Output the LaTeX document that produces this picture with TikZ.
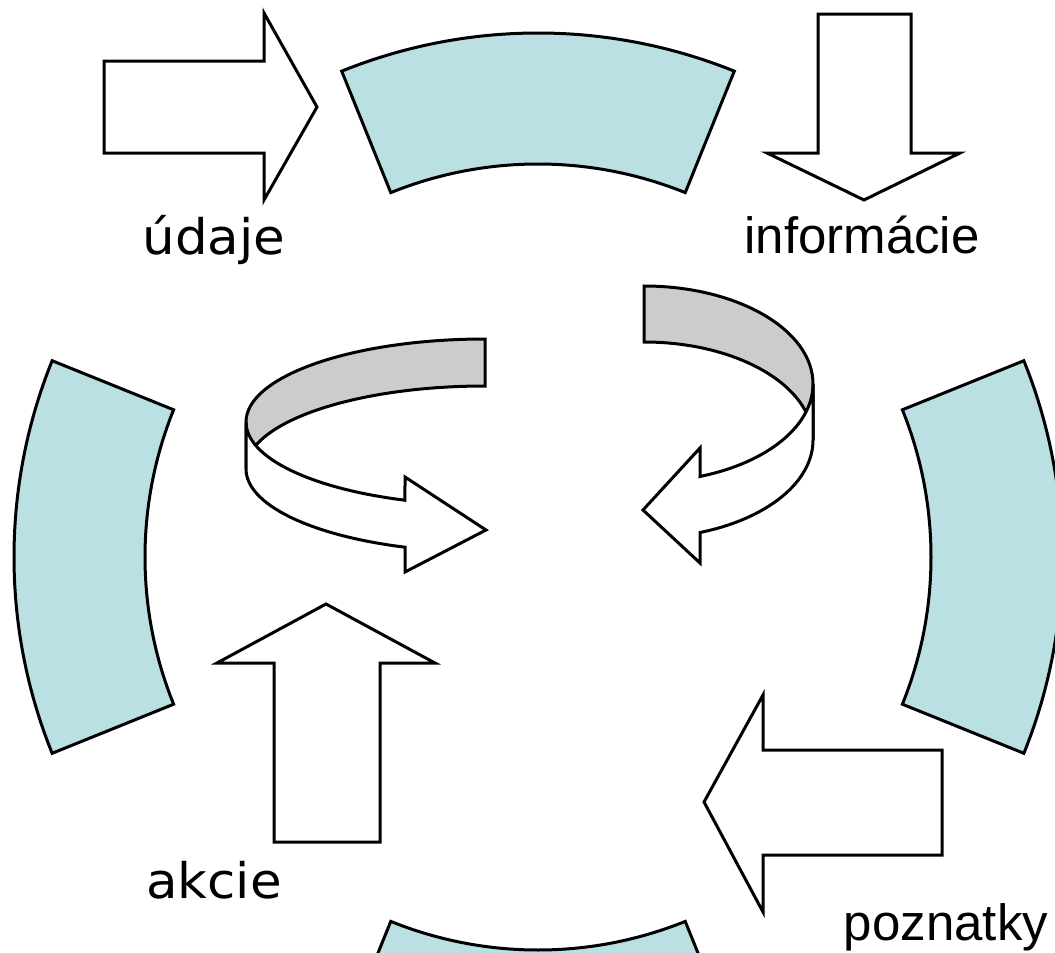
\documentclass[tikz,border=0pt]{standalone}
\usepackage{fontspec}
\setmainfont{Liberation Sans}
\newfontfamily\widefont{DejaVu Sans}

\definecolor{ringblue}{RGB}{187,224,227}
\definecolor{bandgray}{RGB}{204,204,204}

\tikzset{
    segment/.style={draw=black, fill=ringblue, line width=3pt},
    blockarrow/.style={draw=black, fill=white, line width=3pt, line join=miter},
    bandback/.style={draw=black, fill=bandgray, line width=3pt},
    bandfront/.style={draw=black, fill=white, line width=3pt},
    lbl/.style={anchor=base, inner sep=0pt},
    serifless/.style={font=\fontsize{51}{51}\selectfont},
    widetext/.style={font=\widefont\fontsize{49}{49}\selectfont}
}

\begin{document}
\begin{tikzpicture}[x=1pt,y=-1pt]
    \useasboundingbox (0,0) rectangle (1055,953);
    \clip (0,0) rectangle (1055,953);
    % ring of four segments
    \begin{scope}[shift={(538,557)}]
        \foreach \c in {0,90,180,270} {
            \draw[segment] (\c-22:524) arc[start angle=\c-22, end angle=\c+22, radius=524]
                -- (\c+22:393) arc[start angle=\c+22, end angle=\c-22, radius=393] -- cycle;
        }
    \end{scope}
    % straight arrows
    \draw[blockarrow] (104,61) -- (264,61) -- (264,13) -- (317,107) -- (264,200) -- (264,153) -- (104,153) -- cycle;
    \draw[blockarrow] (818,14) -- (911,14) -- (911,153) -- (960,153) -- (864,200) -- (767,153) -- (818,153) -- cycle;
    \draw[blockarrow] (326,604) -- (435,663) -- (380,663) -- (380,842) -- (274,842) -- (274,663) -- (217,663) -- cycle;
    \draw[blockarrow] (704,802) -- (763,695) -- (763,750) -- (942,750) -- (942,855) -- (763,855) -- (763,912) -- cycle;
    % curved arrow, left
    \draw[bandback] (485,339) arc[start angle=270, end angle=180, x radius=239, y radius=83]
        -- (246,469) arc[start angle=180, end angle=270, x radius=239, y radius=83] -- cycle;
    \draw[bandfront] (246,422) arc[start angle=180, end angle=109.56, x radius=239, y radius=83]
        -- (405,477) -- (486,530) -- (405,572) -- (405,547.2)
        arc[start angle=109.56, end angle=180, x radius=239, y radius=83] -- cycle;
    % curved arrow, right
    \draw[bandback] (644,286) arc[start angle=270, end angle=360, x radius=169, y radius=98]
        -- (813,440) arc[start angle=0, end angle=-90, x radius=169, y radius=98] -- cycle;
    \draw[bandfront] (813,384) arc[start angle=0, end angle=70.65, x radius=169, y radius=98]
        -- (700,448) -- (643,510) -- (700,563) -- (700,532.5)
        arc[start angle=70.65, end angle=0, x radius=169, y radius=98] -- cycle;
    % labels
    \node[lbl, widetext] (udaje) at (214,254) {\scalebox{1.05}[1]{údaje}};
    \node[lbl, serifless] (informacie) at (862,253) {informácie};
    \node[lbl, widetext] (akcie) at (214,898) {\scalebox{1.05}[1]{akcie}};
    \node[lbl, serifless] (poznatky) at (946,940) {poznatky};
\end{tikzpicture}
\end{document}
